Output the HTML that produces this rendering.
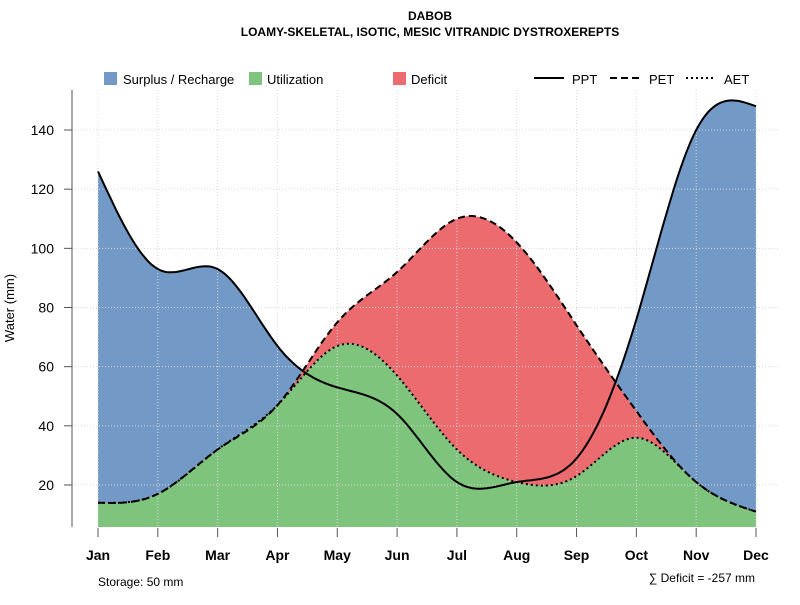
<!DOCTYPE html>
<html><head><meta charset="utf-8"><style>
body{margin:0;background:#fff;}
svg text{font-family:"Liberation Sans",sans-serif;}
</style></head><body>
<svg id="chart" width="800" height="600" xmlns="http://www.w3.org/2000/svg">
<text x="430" y="20" text-anchor="middle" font-size="12" font-weight="bold">DABOB</text>
<text x="430" y="36" text-anchor="middle" font-size="12" font-weight="bold">LOAMY-SKELETAL, ISOTIC, MESIC VITRANDIC DYSTROXEREPTS</text>
<g id="plot"></g>
<g font-size="13">
<rect x="104" y="72" width="13" height="13" fill="#7399c6"/>
<text x="123" y="84">Surplus / Recharge</text>
<rect x="249" y="72" width="13" height="13" fill="#7fc47c"/>
<text x="267" y="84">Utilization</text>
<rect x="393" y="72" width="13" height="13" fill="#eb6b6e"/>
<text x="411" y="84">Deficit</text>
<line x1="534" y1="78" x2="564" y2="78" stroke="#000" stroke-width="2"/>
<text x="572" y="84">PPT</text>
<line x1="610" y1="78" x2="640" y2="78" stroke="#000" stroke-width="2" stroke-dasharray="7,4"/>
<text x="649" y="84">PET</text>
<line x1="686" y1="78" x2="716" y2="78" stroke="#000" stroke-width="2" stroke-dasharray="2,3"/>
<text x="724" y="84">AET</text>
</g>
<text x="14" y="308" transform="rotate(-90 14 308)" text-anchor="middle" font-size="13">Water (mm)</text>
<text x="98" y="586" font-size="12">Storage: 50 mm</text>
<text x="755" y="582" text-anchor="end" font-size="12">∑ Deficit = -257 mm</text>
</svg>
<script>
const months=["Jan","Feb","Mar","Apr","May","Jun","Jul","Aug","Sep","Oct","Nov","Dec"];
const ppt=[126,93,93,67,53,44,21,21,29,76,140,148];
const pet=[14,17,32,47,75,92,110,102,74,45,21,11];
const aet=[14,17,32,47,67,57,32,21,23,36,21,11];
const yTicks=[20,40,60,80,100,120,140];
const NS="http://www.w3.org/2000/svg";
const X=i=>98+i*(756-98)/11;
const Y=v=>485-(v-20)*(355/120);
const bottom=527;
function spline(ys){
 const n=ys.length,m=new Array(n).fill(0);
 // natural cubic spline on unit spacing
 const a=[],b=[],c=[],d=[];
 for(let i=0;i<n;i++){
  if(i===0||i===n-1){a.push(0);b.push(1);c.push(0);d.push(0);}
  else{a.push(1);b.push(4);c.push(1);d.push(6*(ys[i+1]-2*ys[i]+ys[i-1]));}
 }
 for(let i=1;i<n;i++){const w=a[i]/b[i-1];b[i]-=w*c[i-1];d[i]-=w*d[i-1];}
 m[n-1]=d[n-1]/b[n-1];
 for(let i=n-2;i>=0;i--)m[i]=(d[i]-c[i]*m[i+1])/b[i];
 const pts=[];
 for(let i=0;i<n-1;i++){
  for(let k=0;k<20;k++){
   const t=k/20;
   const v=(1-t)*ys[i]+t*ys[i+1]+((1-t)**3-(1-t))*m[i]/6+(t**3-t)*m[i+1]/6;
   pts.push([X(i+t),Y(v)]);
  }
 }
 pts.push([X(n-1),Y(ys[n-1])]);
 return pts;
}
const P=spline(ppt),E=spline(pet),A=spline(aet);
const g=document.getElementById('plot');
function el(tag,attrs){const e=document.createElementNS(NS,tag);for(const k in attrs)e.setAttribute(k,attrs[k]);g.appendChild(e);return e;}
const line=pts=>pts.map((p,i)=>(i?'L':'M')+p[0].toFixed(1)+','+p[1].toFixed(1)).join('');
let e;
e=el('path',{d:line(P)+`L${X(11)},${bottom}L${X(0)},${bottom}Z`,fill:'#7399c6'});


e=el('path',{d:line(E)+'L'+A.slice().reverse().map(p=>p[0].toFixed(1)+','+p[1].toFixed(1)).join('L')+'Z',fill:'#eb6b6e'});


e=el('path',{d:line(A)+`L${X(11)},${bottom}L${X(0)},${bottom}Z`,fill:'#7fc47c'});


months.forEach((m,i)=>{
 e=el('line',{x1:X(i),x2:X(i),y1:90,y2:bottom,stroke:'#d8d8d8','stroke-dasharray':'1,2'});
 
 
 e=el('line',{x1:X(i),x2:X(i),y1:528,y2:537,stroke:'#555'});
 
 
 e=el('text',{x:X(i),y:560,'text-anchor':'middle','font-size':'14','font-weight':'bold'});
 e.textContent=m;
 
 
});
yTicks.forEach(v=>{
 e=el('line',{x1:72,x2:780,y1:Y(v),y2:Y(v),stroke:'#d8d8d8','stroke-dasharray':'1,2'});
 
 
 e=el('line',{x1:64,x2:72,y1:Y(v),y2:Y(v),stroke:'#555'});
 
 
 e=el('text',{x:54,y:Y(v)+5,'text-anchor':'end','font-size':'14'});
 e.textContent=v;
 
 
});
e=el('line',{x1:72,x2:72,y1:90,y2:527,stroke:'#555'});


e=el('path',{d:line(P),fill:'none',stroke:'#000','stroke-width':2});


e=el('path',{d:line(E),fill:'none',stroke:'#000','stroke-width':2,'stroke-dasharray':'7,4'});


e=el('path',{d:line(A),fill:'none',stroke:'#000','stroke-width':2,'stroke-dasharray':'2,3'});


</script>
</body></html>
